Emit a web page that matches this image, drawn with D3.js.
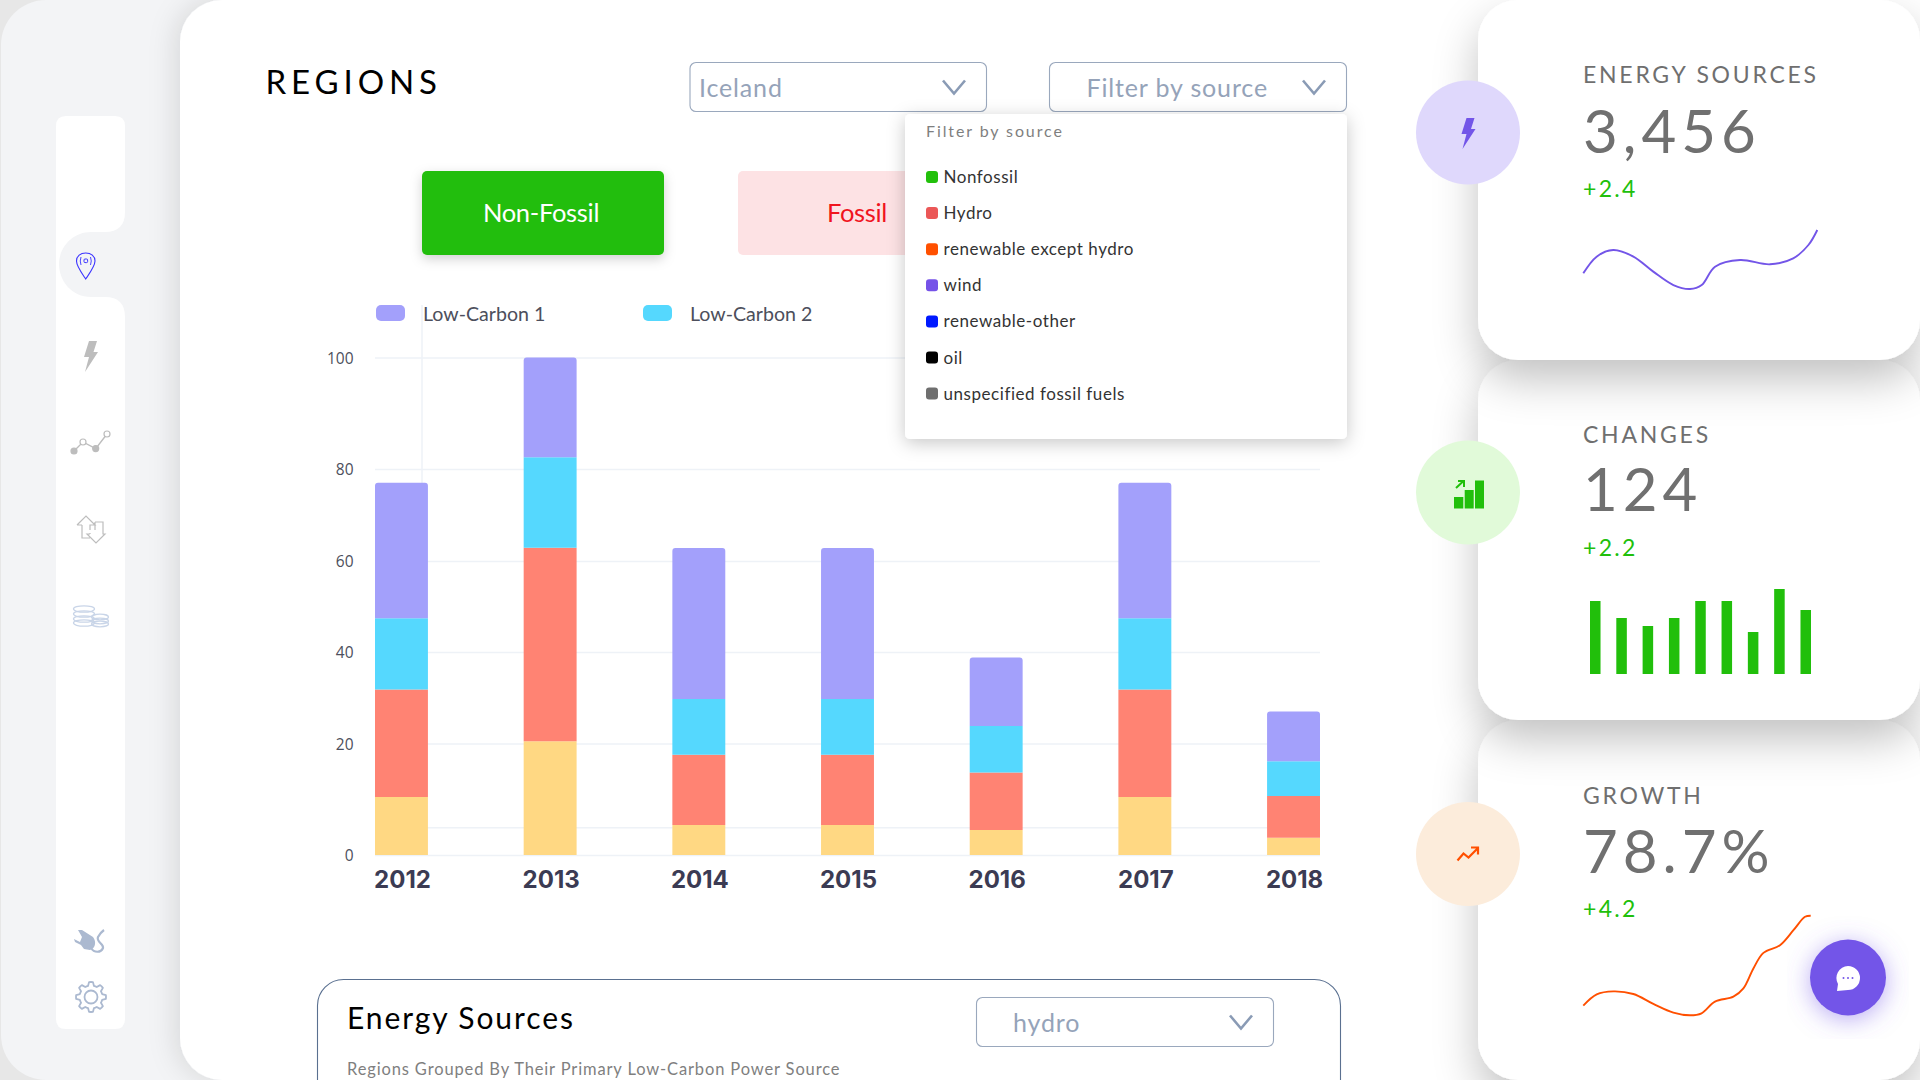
<!DOCTYPE html>
<html>
<head>
<meta charset="utf-8">
<script src="https://cdn.jsdelivr.net/npm/d3@7"></script>
<style>
  html, body { margin: 0; padding: 0; background: #fff; overflow: hidden; }
  text { font-family: Lato, "Noto Sans", sans-serif; }
</style>
</head>
<body>
<div id="viz"></div>
<script>
// Stacked chart data
const years = ['2012', '2013', '2014', '2015', '2016', '2017', '2018'];
const seriesNames = ['yellow', 'red', 'cyan', 'purple'];
const yellowValues = [10.4, 20.5, 5.4, 5.4, 4.5, 10.4, 3.1];
const redValues = [21.4, 42.4, 12.6, 12.6, 10.3, 21.4, 7.5];
const cyanValues = [15.6, 19.2, 11.7, 11.7, 9.0, 15.6, 6.2];
const purpleValues = [29.6, 17.9, 33.1, 33.1, 15.0, 29.6, 10.2];
const yTicks = [0, 20, 40, 60, 80, 100];
const yGridValues = [0, 5, 20, 40, 60, 80, 100];
const barColors = ['#FFD883', '#FF8373', '#55D8FE', '#A3A0FB'];

// Legend and filter list
const legendLabels = ['Low-Carbon 1', 'Low-Carbon 2'];
const legendColors = ['#A3A0FB', '#55D8FE'];
const filterLabels = ['Nonfossil', 'Hydro', 'renewable except hydro', 'wind', 'renewable-other', 'oil', 'unspecified fossil fuels'];
const filterColors = ['#22C00B', '#EB5757', '#FF5000', '#7552E8', '#0019FF', '#000000', '#6F6F6F'];

// Card data
const cardLabels = ['ENERGY SOURCES', 'CHANGES', 'GROWTH'];
const cardValues = ['3,456', '124', '78.7%'];
const cardDeltas = ['+2.4', '+2.2', '+4.2'];
const energyX = [0, 5.7, 12.8, 21.4, 29.9, 38.5, 45.6, 50.6, 56.3, 67, 79.8, 89.7, 96.2, 100];
const energyY = [27.8, 55.6, 66.7, 55.6, 30.6, 8.3, 1.7, 8.3, 38.9, 50, 42.8, 52.8, 75, 100];
const changesBars = [73, 56, 48, 56, 73, 73, 42, 85, 64];
const growthX = [0, 5.9, 13.2, 22, 30.8, 39.6, 46.9, 52, 57.9, 66, 70.4, 74.8, 79.2, 86.5, 92.4, 97.5, 100];
const growthY = [9.7, 21, 24, 21.4, 11.4, 2.7, 0, 2, 13.7, 18.7, 27, 47, 62.7, 70.4, 85.4, 98.9, 100];

const width = 1920;
const height = 1080;
const green = '#21BF0B';
const violet = '#7355E8';
const orange = '#FF4F00';

const svg = d3.select('#viz')
  .append('svg')
  .attr('width', width)
  .attr('height', height)
  .attr('viewBox', `0 0 ${width} ${height}`)
  .style('display', 'block');

const defs = svg.append('defs');
const addShadow = (id, dx, dy, blur, color, opacity) => {
  defs.append('filter')
    .attr('id', id)
    .attr('x', '-30%').attr('y', '-30%')
    .attr('width', '160%').attr('height', '160%')
    .append('feDropShadow')
    .attr('dx', dx).attr('dy', dy)
    .attr('stdDeviation', blur)
    .attr('flood-color', color)
    .attr('flood-opacity', opacity);
};
addShadow('panelShadow', -4, 0, 14, '#000', 0.12);
addShadow('cardShadow', 0, 20, 22, '#000', 0.24);
addShadow('buttonShadow', 0, 4, 6, '#000', 0.18);
addShadow('popupShadow', 0, 4, 9, '#000', 0.22);
addShadow('chatShadow', 0, 4, 12, violet, 0.5);

const addText = (parent, str, x, y, size, color, opts = {}) =>
  parent.append('text')
    .attr('x', x).attr('y', y)
    .attr('font-size', size)
    .attr('fill', color)
    .attr('letter-spacing', opts.spacing || 0)
    .attr('font-weight', opts.weight || 400)
    .attr('text-anchor', opts.anchor || 'start')
    .style('font-family', opts.family || null)
    .text(str);

const addChevron = (parent, x0, x1, y0, y1) =>
  parent.append('path')
    .attr('d', `M${x0},${y0} L${(x0 + x1) / 2},${y1} L${x1},${y0}`)
    .attr('fill', 'none')
    .attr('stroke', '#8A9BB5')
    .attr('stroke-width', 2.6);

const addDropdown = (parent, label, x0, x1, y0, y1, textX, textY, chevX) => {
  parent.append('rect')
    .attr('x', x0).attr('y', y0)
    .attr('width', x1 - x0).attr('height', y1 - y0)
    .attr('rx', 6)
    .attr('fill', '#fff')
    .attr('stroke', '#9AA8BD')
    .attr('stroke-width', 1.1);
  addText(parent, label, textX, textY, 25, '#95A3B9', {spacing: 0.85});
  addChevron(parent, chevX, chevX + 22, y0 + 18, y0 + 31);
};

// Page background and sidebar
svg.append('rect').attr('width', width).attr('height', height).attr('fill', '#E7E7E7');
svg.append('rect')
  .attr('x', 1).attr('y', 0)
  .attr('width', 400).attr('height', height)
  .attr('rx', 45)
  .attr('fill', '#F3F4F6');

svg.append('path')
  .attr('d', 'M66,116 H115 Q125,116 125,126 V212 Q125,232 105,232 H91 C72,232 59,248 59,264 C59,281 72,297 91,297 H105 Q125,297 125,317 V1019 Q125,1029 115,1029 H66 Q56,1029 56,1019 V126 Q56,116 66,116 Z')
  .attr('fill', '#fff');

// Sidebar icons
const icons = svg.append('g');
const boltPath = 'M6,0 L14,0 L10.5,11 L15,11 L2,31 L6,16 L1,16 Z';

icons.append('path')
  .attr('d', 'M85.7,279 C81,272 76.5,266 76.5,261 C76.5,256 80.5,253 85.7,253 C91,253 95,256 95,261 C95,266 90.5,272 85.7,279 Z')
  .attr('fill', 'none').attr('stroke', '#3B33FF').attr('stroke-width', 1.1);
icons.append('rect').attr('x', 84).attr('y', 259).attr('width', 3.6).attr('height', 3.6).attr('rx', 1)
  .attr('fill', 'none').attr('stroke', '#3B33FF').attr('stroke-width', 1);
icons.append('path').attr('d', 'M81,257 Q79.5,261 81,265 M90.5,257 Q92,261 90.5,265')
  .attr('fill', 'none').attr('stroke', '#3B33FF').attr('stroke-width', 0.9);

icons.append('path').attr('d', boltPath).attr('transform', 'translate(83,341)').attr('fill', '#BDBDBD');

icons.append('path').attr('d', 'M74,451 L83,442 L95.7,448.6 L107,434')
  .attr('fill', 'none').attr('stroke', '#BDBDBD').attr('stroke-width', 1.4);
icons.selectAll('.lineDot')
  .data([[74, 451, 1], [83, 442, 0], [95.7, 448.6, 1], [107, 434, 0]])
  .join('circle')
  .attr('cx', d => d[0]).attr('cy', d => d[1]).attr('r', 3)
  .attr('fill', d => (d[2] ? '#BDBDBD' : '#fff'))
  .attr('stroke', '#BDBDBD').attr('stroke-width', 1.2);

icons.append('path')
  .attr('d', 'M77,525 L86,516 L95,525 L90,525 L90,530 M82,525 L77,525 M82,525 L82,538 L90,538 M90,534 L90,533 M95,522 L103,522 L103,534 L105,534 L96,543 L87,534 L90,534 M95,522 L95,530')
  .attr('fill', 'none').attr('stroke', '#BDBDBD').attr('stroke-width', 1.2);

[[84, 609], [84, 614], [84, 619], [84, 623]].forEach(p => {
  icons.append('ellipse').attr('cx', p[0]).attr('cy', p[1]).attr('rx', 10.5).attr('ry', 3.2)
    .attr('fill', 'none').attr('stroke', '#C9D5E8').attr('stroke-width', 1.3);
});
[[100, 617], [100, 621], [100, 624]].forEach(p => {
  icons.append('ellipse').attr('cx', p[0]).attr('cy', p[1]).attr('rx', 8.5).attr('ry', 2.8)
    .attr('fill', 'none').attr('stroke', '#C9D5E8').attr('stroke-width', 1.3);
});

icons.append('path')
  .attr('d', 'M74,939 L80,942 L82,937 L78,930 L82,930 L93,937 C97,942 95,949 90,950 L84,949 L81,945 L75,942 Z')
  .attr('fill', '#ABB9D0');
icons.append('path')
  .attr('d', 'M91,948 C94,953 101,953 103,948 C104,944 96,942 98,937 Q100,933 104,930')
  .attr('fill', 'none').attr('stroke', '#ABB9D0').attr('stroke-width', 2.2);

const gearAngles = d3.range(0, 360, 360 / 48);
const gearLine = d3.lineRadial().curve(d3.curveLinearClosed)
  .angle(a => a * Math.PI / 180)
  .radius(a => (a % 45 < 11.25 || a % 45 > 33.75 ? 15 : 11.5));
icons.append('path')
  .attr('d', gearLine(gearAngles))
  .attr('transform', 'translate(91,997)')
  .attr('fill', 'none').attr('stroke', '#ABB9D0').attr('stroke-width', 1.8).attr('stroke-linejoin', 'round');
icons.append('circle').attr('cx', 91).attr('cy', 997).attr('r', 6.5)
  .attr('fill', 'none').attr('stroke', '#ABB9D0').attr('stroke-width', 1.8);

// Main panel
svg.append('rect')
  .attr('x', 180).attr('y', 0)
  .attr('width', 1800).attr('height', height)
  .attr('rx', 42)
  .attr('fill', '#fff')
  .attr('filter', 'url(#panelShadow)');

addText(svg, 'REGIONS', 265.5, 93.5, 33, '#000', {spacing: 4.9});

// Category buttons
const mainGroup = svg.append('g');
mainGroup.append('rect').attr('x', 422).attr('y', 171).attr('width', 242).attr('height', 84).attr('rx', 5)
  .attr('fill', '#21BE0A').attr('filter', 'url(#buttonShadow)');
addText(mainGroup, 'Non-Fossil', 541, 221.5, 25.5, '#fff', {anchor: 'middle', spacing: -0.3});
mainGroup.append('rect').attr('x', 738).attr('y', 171).attr('width', 242).attr('height', 84).attr('rx', 5)
  .attr('fill', '#FDE2E4');
addText(mainGroup, 'Fossil', 857, 221.5, 25.5, '#F0141E', {anchor: 'middle', spacing: -0.3});

// Legend
const legend = svg.append('g').selectAll('g')
  .data(legendLabels)
  .join('g')
  .attr('transform', (d, i) => `translate(${376 + i * 267},305)`);
legend.append('rect')
  .attr('width', 29).attr('height', 16).attr('rx', 5)
  .attr('fill', (d, i) => legendColors[i]);
legend.append('text')
  .attr('x', 47).attr('y', 15.5)
  .attr('font-size', 19.6)
  .attr('fill', '#4D4F5C')
  .text(d => d);

// Stacked chart scales
const xBand = d3.scaleBand()
  .domain(years)
  .range([375, 1320])
  .paddingInner(0.644)
  .paddingOuter(0);

// Y axis of the reference is not evenly spaced, so the scale is piecewise
const yScale = d3.scaleLinear()
  .domain(yTicks)
  .range([855, 743.5, 652, 561, 469, 357.5]);

svg.append('g')
  .attr('transform', 'translate(375,0)')
  .call(d3.axisLeft(yScale).tickValues(yGridValues).tickSize(-945).tickFormat(''))
  .call(g => g.select('.domain').remove())
  .call(g => g.selectAll('line').attr('stroke', '#EEF2F7').attr('stroke-width', 1.5));

svg.append('line')
  .attr('x1', 422).attr('x2', 422)
  .attr('y1', 305).attr('y2', 855)
  .attr('stroke', '#EEF2F7').attr('stroke-width', 1.5);

svg.append('g')
  .attr('transform', 'translate(375,1)')
  .call(d3.axisLeft(yScale).tickValues(yTicks).tickSize(0).tickPadding(21.5))
  .call(g => g.select('.domain').remove())
  .call(g => g.selectAll('text')
    .attr('font-size', 15.5)
    .attr('fill', '#4D4F5C')
    .style('font-family', '"Open Sans", sans-serif'));

svg.append('g')
  .attr('transform', 'translate(1,855)')
  .call(d3.axisBottom(xBand).tickSize(0).tickPadding(16))
  .call(g => g.select('.domain').remove())
  .call(g => g.selectAll('text')
    .attr('font-size', 24)
    .attr('font-weight', 700)
    .attr('fill', '#3B3B53')
    .style('font-family', 'Inter, sans-serif'));

const table = years.map((year, i) => ({
  year,
  yellow: yellowValues[i],
  red: redValues[i],
  cyan: cyanValues[i],
  purple: purpleValues[i]
}));
const stacked = d3.stack().keys(seriesNames)(table);

const topRounded = (x, y0, y1, w, r) =>
  `M${x},${y1} V${y0 + r} Q${x},${y0} ${x + r},${y0} H${x + w - r} Q${x + w},${y0} ${x + w},${y0 + r} V${y1} Z`;

svg.append('g').selectAll('g')
  .data(stacked)
  .join('g')
  .attr('fill', (d, i) => barColors[i])
  .selectAll('path')
  .data(d => d.map(v => ({v, top: d.index === seriesNames.length - 1})))
  .join('path')
  .attr('d', d => topRounded(
    xBand(d.v.data.year),
    yScale(d.v[1]),
    yScale(d.v[0]),
    xBand.bandwidth(),
    d.top ? 3 : 0
  ));

// Filter popup and top dropdowns
addDropdown(svg, 'Iceland', 690, 986.5, 62.5, 111.5, 699, 96.5, 943);
addDropdown(svg, 'Filter by source', 1049.5, 1346.5, 62.5, 111.5, 1086.5, 96.5, 1303);

const popup = svg.append('g');
popup.append('rect')
  .attr('x', 905).attr('y', 114)
  .attr('width', 442).attr('height', 325)
  .attr('rx', 5)
  .attr('fill', '#fff')
  .attr('filter', 'url(#popupShadow)');
addText(popup, 'Filter by source', 926, 136.5, 16, '#7F7F7F', {spacing: 1.9});

const filterRows = popup.selectAll('.filterRow')
  .data(filterLabels)
  .join('g')
  .attr('class', 'filterRow')
  .attr('transform', (d, i) => `translate(926,${177 + i * 36.1})`);
filterRows.append('rect')
  .attr('y', -6).attr('width', 12).attr('height', 12).attr('rx', 3)
  .attr('fill', (d, i) => filterColors[i]);
filterRows.append('text')
  .attr('x', 17.5).attr('y', 6)
  .attr('font-size', 17)
  .attr('letter-spacing', 0.55)
  .attr('fill', '#333')
  .text(d => d);

// Energy Sources panel at the bottom
svg.append('rect')
  .attr('x', 317.5).attr('y', 979.5)
  .attr('width', 1023).attr('height', 160)
  .attr('rx', 26)
  .attr('fill', '#fff')
  .attr('stroke', '#5A7090')
  .attr('stroke-width', 1.1);
addText(svg, 'Energy Sources', 347, 1029, 30, '#000', {spacing: 1.9});
addDropdown(svg, 'hydro', 976.5, 1273.5, 997.5, 1046.5, 1013, 1032, 1230);
addText(svg, 'Regions Grouped By Their Primary Low-Carbon Power Source', 347, 1075, 16.5, '#7F7F7F', {spacing: 0.86});

// Right side cards, drawn bottom first so each shadow falls on the next card
const cardTops = [0, 360, 720];
[2, 1, 0].forEach(i => {
  svg.append('rect')
    .attr('x', 1478).attr('y', cardTops[i])
    .attr('width', 442).attr('height', 360)
    .attr('rx', 40)
    .attr('fill', '#fff')
    .attr('filter', 'url(#cardShadow)');
});

const labelY = [82.5, 442.5, 804];
const valueY = [152.5, 511, 872.5];
const deltaY = [196.5, 555.5, 916.5];
cardLabels.forEach((label, i) => {
  addText(svg, label, 1583, labelY[i], 23, '#6F6F6F', {spacing: 2.75});
  addText(svg, cardValues[i], 1583, valueY[i], 60, '#707070', {spacing: 5});
  addText(svg, cardDeltas[i], 1583, deltaY[i], 23, green, {spacing: 2.3});
});

const circleY = [132.5, 492.5, 854];
const circleFill = ['#DFD8FC', '#E1FAD9', '#FCECDB'];
svg.selectAll('.cardCircle')
  .data(circleY)
  .join('circle')
  .attr('class', 'cardCircle')
  .attr('cx', 1468).attr('cy', d => d).attr('r', 52)
  .attr('fill', (d, i) => circleFill[i]);

svg.append('path').attr('d', boltPath).attr('transform', 'translate(1460.5,118)').attr('fill', violet);

svg.append('path').attr('fill', green)
  .attr('d', 'M1454,497 h9.3 v11.5 h-9.3 Z M1464.7,490 h9 v18.5 h-9 Z M1475,480.5 h9 v28 h-9 Z');
svg.append('path').attr('fill', 'none').attr('stroke', green).attr('stroke-width', 2)
  .attr('d', 'M1456,488 L1463,481.5 M1458,481 H1464 V487');

svg.append('path').attr('fill', 'none').attr('stroke', orange).attr('stroke-width', 2.2)
  .attr('d', 'M1457.5,860.5 L1463.5,853.5 L1468.5,857.5 L1477.5,848.5 M1471,847.5 H1478 V854.5');

// Sparklines
const drawSpark = (xs, ys, xRange, yRange, color) => {
  const sx = d3.scaleLinear().domain([0, 100]).range(xRange);
  const sy = d3.scaleLinear().domain([0, 100]).range(yRange);
  const line = d3.line()
    .x((d, i) => sx(xs[i]))
    .y(d => sy(d))
    .curve(d3.curveCatmullRom.alpha(0.5));
  svg.append('path')
    .attr('d', line(ys))
    .attr('fill', 'none')
    .attr('stroke', color)
    .attr('stroke-width', 1.9);
};
drawSpark(energyX, energyY, [1583.3, 1817.3], [290, 230], violet);
drawSpark(growthX, growthY, [1583.3, 1810.7], [1015.3, 915.7], orange);

// Changes bars
const changesX = d3.scaleBand()
  .domain(d3.range(changesBars.length))
  .range([1590, 1811])
  .paddingInner(0.6)
  .paddingOuter(0);
const changesY = d3.scaleLinear().domain([0, 85]).range([674, 589]);
svg.selectAll('.changeBar')
  .data(changesBars)
  .join('rect')
  .attr('class', 'changeBar')
  .attr('x', (d, i) => changesX(i))
  .attr('y', d => changesY(d))
  .attr('width', changesX.bandwidth())
  .attr('height', d => changesY(0) - changesY(d))
  .attr('fill', green);

// Chat button
svg.append('circle')
  .attr('cx', 1848).attr('cy', 977.5).attr('r', 38)
  .attr('fill', violet)
  .attr('filter', 'url(#chatShadow)');
svg.append('path')
  .attr('fill', '#fff')
  .attr('d', 'M1848,966 A12,12 0 1 1 1848,990 L1837,991 L1838,984 A12,12 0 0 1 1848,966 Z');
svg.selectAll('.chatDot')
  .data([-4.5, 0, 4.5])
  .join('circle')
  .attr('class', 'chatDot')
  .attr('cx', d => 1848 + d).attr('cy', 978).attr('r', 1)
  .attr('fill', violet);
</script>
</body>
</html>
